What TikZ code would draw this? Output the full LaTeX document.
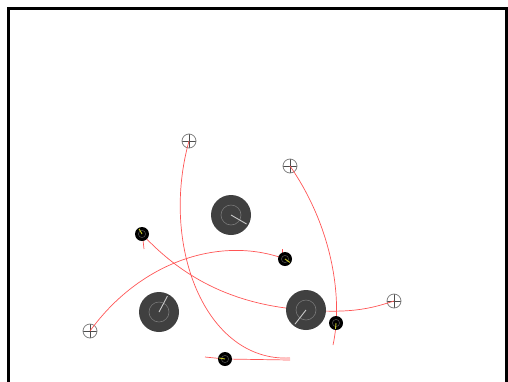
\documentclass[tikz,border=0pt]{standalone}
\begin{document}
\definecolor{robotgray}{RGB}{64,64,64}
\definecolor{ringgray}{RGB}{120,120,120}
\definecolor{headgray}{RGB}{200,200,200}
\definecolor{pathred}{RGB}{255,85,85}
\definecolor{balldir}{RGB}{200,200,40}
\tikzset{
  robot/.style={circle, fill=robotgray, minimum size=40pt, inner sep=0pt},
  ballnode/.style={circle, fill=black, minimum size=14pt, inner sep=0pt},
  target/.style={circle, draw=gray, line width=0.8pt, fill=white, minimum size=14pt, inner sep=0pt,
    path picture={\draw[black!70,line width=0.6pt] (path picture bounding box.north) -- (path picture bounding box.south)
      (path picture bounding box.west) -- (path picture bounding box.east);}},
  trail/.style={draw=pathred, line width=0.7pt},
  ring/.style={draw=ringgray, line width=0.6pt},
  heading/.style={draw=headgray, line width=0.9pt},
  ballring/.style={draw=black!70, line width=0.6pt},
  balldirline/.style={draw=balldir, line width=0.9pt},
}
\begin{tikzpicture}[x=1pt,y=-1pt]
\useasboundingbox (0,0) rectangle (508,381);
\clip (0,0) rectangle (508,381);
\draw[line width=3pt] (8,8) rectangle (506,400);

% targets
\node[target] (t1) at (189,141) {};
\node[target] (t2) at (290,166) {};
\node[target] (t3) at (394,301) {};
\node[target] (t4) at (90,331) {};

% free ends
\coordinate (e1) at (290,358);
\coordinate (e2) at (333,345);
\coordinate (e3) at (205,357);
\coordinate (e4) at (290,360);
\coordinate (k1a) at (143,240);
\coordinate (k1b) at (144,249);
\coordinate (k2a) at (282,249);
\coordinate (k2b) at (282,255);

% robots and balls positions
\coordinate (r1) at (231,215);
\coordinate (r2) at (159,312);
\coordinate (r3) at (306,310);
\coordinate (b1) at (142,234);
\coordinate (b2) at (285,259);
\coordinate (b3) at (336,323);
\coordinate (b4) at (225,359);

% trails
\draw[trail] (t1.center) .. controls (160,245) and (205,362) .. (e1);
\draw[trail] (t2.center) .. controls (333,228) and (343,300) .. (e2);
\draw[trail] (t4.center) .. controls (140,262) and (220,235) .. (b2);
\draw[trail] (b1) .. controls (180,275) and (230,305) .. (r3);
\draw[trail] (r3) .. controls (355,314) and (375,307) .. (t3.center);
\draw[trail] (e3) -- (b4) -- (e4);
\draw[trail] (k1a) -- (k1b);
\draw[trail] (k2a) -- (k2b);

% robots
\foreach \r/\a in {r1/30, r2/-62, r3/128}{
  \node[robot] (\r n) at (\r) {};
  \draw[ring] (\r) circle (10);
  \draw[heading] (\r) -- ++(\a:18);
}
% balls
\foreach \b/\a in {b1/-120, b2/35, b3/95, b4/190}{
  \node[ballnode] (\b n) at (\b) {};
  \draw[ballring] (\b) circle (3.6);
  \draw[balldirline] (\b) -- ++(\a:6);
}
\end{tikzpicture}
\end{document}
